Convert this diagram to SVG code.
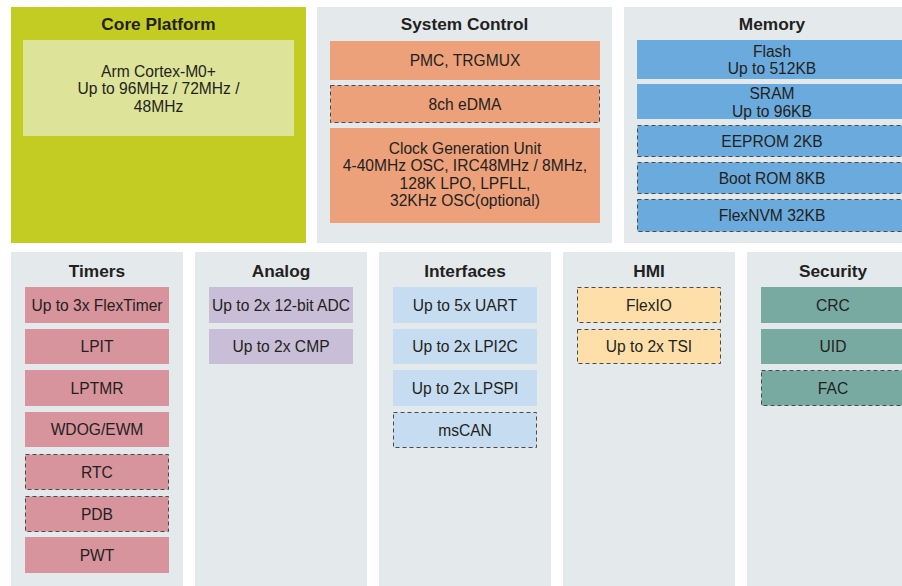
<svg xmlns="http://www.w3.org/2000/svg" width="902" height="586" viewBox="0 0 902 586">
<style>
.panel{fill:#e4e9ec}
.title{font-family:"Liberation Sans",Arial,sans-serif;font-size:17.3px;font-weight:bold;fill:#231f20;text-anchor:middle}
.lbl{font-family:"Liberation Sans",Arial,sans-serif;font-size:15.6px;fill:#231f20;text-anchor:middle}
.dash{stroke:#4a4a4a;stroke-width:1;stroke-dasharray:4 3}
.core{fill:#dde398}
.sys{fill:#eca17b}
.mem{fill:#6aaadc}
.tim{fill:#d8949d}
.ana{fill:#c9bed7}
.ifc{fill:#c6dcf0}
.hmi{fill:#fedfa9}
.sec{fill:#79aaa2}
</style>
<rect width="902" height="586" fill="#ffffff"/>

<g id="core-platform">
<rect x="11" y="7" width="295" height="236" fill="#c2cc22"/>
<text class="title" x="158.5" y="30">Core Platform</text>
<g id="cortex">
<rect class="core" x="23" y="40" width="271" height="96"/>
<text class="lbl" x="158.5" y="76.5">Arm Cortex-M0+</text>
<text class="lbl" x="158.5" y="94">Up to 96MHz / 72MHz /</text>
<text class="lbl" x="158.5" y="111.5">48MHz</text>
</g>
</g>

<g id="system-control">
<rect class="panel" x="317" y="7" width="295" height="236"/>
<text class="title" x="464.5" y="30">System Control</text>
<g id="pmc"><rect class="sys" x="330" y="41" width="270" height="39"/><text class="lbl" x="465" y="66">PMC, TRGMUX</text></g>
<g id="edma"><rect class="sys dash" x="330.5" y="85.5" width="269" height="37"/><text class="lbl" x="465" y="109.5">8ch eDMA</text></g>
<g id="cgu"><rect class="sys" x="330" y="128" width="270" height="95"/>
<text class="lbl" x="465" y="153.5">Clock Generation Unit</text>
<text class="lbl" x="465" y="171">4-40MHz OSC, IRC48MHz / 8MHz,</text>
<text class="lbl" x="465" y="188.5">128K LPO, LPFLL,</text>
<text class="lbl" x="465" y="206">32KHz OSC(optional)</text></g>
</g>

<g id="memory">
<rect class="panel" x="624" y="7" width="295" height="236"/>
<text class="title" x="772" y="30">Memory</text>
<g id="flash"><rect class="mem" x="637" y="40" width="270" height="39"/><text class="lbl" x="772" y="56.5">Flash</text><text class="lbl" x="772" y="73.5">Up to 512KB</text></g>
<g id="sram"><rect class="mem" x="637" y="84" width="270" height="35"/><text class="lbl" x="772" y="98.5">SRAM</text><text class="lbl" x="772" y="116.5">Up to 96KB</text></g>
<g id="eeprom"><rect class="mem dash" x="637.5" y="125.5" width="270" height="31"/><text class="lbl" x="772" y="146.5">EEPROM 2KB</text></g>
<g id="bootrom"><rect class="mem dash" x="637.5" y="162.5" width="270" height="31"/><text class="lbl" x="772" y="183.5">Boot ROM 8KB</text></g>
<g id="flexnvm"><rect class="mem dash" x="637.5" y="199.5" width="270" height="32"/><text class="lbl" x="772" y="221">FlexNVM 32KB</text></g>
</g>

<g id="timers">
<rect class="panel" x="11" y="252" width="172" height="340"/>
<text class="title" x="97" y="277">Timers</text>
<g id="flextimer"><rect class="tim" x="25" y="287" width="144" height="36"/><text class="lbl" x="97" y="310.5">Up to 3x FlexTimer</text></g>
<g id="lpit"><rect class="tim" x="25" y="329" width="144" height="35"/><text class="lbl" x="97" y="352">LPIT</text></g>
<g id="lptmr"><rect class="tim" x="25" y="370" width="144" height="36"/><text class="lbl" x="97" y="393.5">LPTMR</text></g>
<g id="wdog"><rect class="tim" x="25" y="412" width="144" height="35"/><text class="lbl" x="97" y="435">WDOG/EWM</text></g>
<g id="rtc"><rect class="tim dash" x="25.5" y="454.5" width="143" height="35"/><text class="lbl" x="97" y="477.5">RTC</text></g>
<g id="pdb"><rect class="tim dash" x="25.5" y="496.5" width="143" height="35"/><text class="lbl" x="97" y="519.5">PDB</text></g>
<g id="pwt"><rect class="tim" x="25" y="537" width="144" height="36"/><text class="lbl" x="97" y="560.5">PWT</text></g>
</g>

<g id="analog">
<rect class="panel" x="195" y="252" width="172" height="340"/>
<text class="title" x="281" y="277">Analog</text>
<g id="adc"><rect class="ana" x="209" y="287" width="144" height="36"/><text class="lbl" x="281" y="310.5">Up to 2x 12-bit ADC</text></g>
<g id="cmp"><rect class="ana" x="209" y="329" width="144" height="35"/><text class="lbl" x="281" y="352">Up to 2x CMP</text></g>
</g>

<g id="interfaces">
<rect class="panel" x="379" y="252" width="172" height="340"/>
<text class="title" x="465" y="277">Interfaces</text>
<g id="uart"><rect class="ifc" x="393" y="287" width="144" height="36"/><text class="lbl" x="465" y="310.5">Up to 5x UART</text></g>
<g id="lpi2c"><rect class="ifc" x="393" y="329" width="144" height="35"/><text class="lbl" x="465" y="352">Up to 2x LPI2C</text></g>
<g id="lpspi"><rect class="ifc" x="393" y="370" width="144" height="36"/><text class="lbl" x="465" y="393.5">Up to 2x LPSPI</text></g>
<g id="mscan"><rect class="ifc dash" x="393.5" y="412.5" width="143" height="35"/><text class="lbl" x="465" y="435.5">msCAN</text></g>
</g>

<g id="hmi">
<rect class="panel" x="563" y="252" width="172" height="340"/>
<text class="title" x="649" y="277">HMI</text>
<g id="flexio"><rect class="hmi dash" x="577.5" y="287.5" width="143" height="35"/><text class="lbl" x="649" y="310.5">FlexIO</text></g>
<g id="tsi"><rect class="hmi dash" x="577.5" y="329.5" width="143" height="34"/><text class="lbl" x="649" y="352">Up to 2x TSI</text></g>
</g>

<g id="security">
<rect class="panel" x="747" y="252" width="172" height="340"/>
<text class="title" x="833" y="277">Security</text>
<g id="crc"><rect class="sec" x="761" y="287" width="144" height="36"/><text class="lbl" x="833" y="310.5">CRC</text></g>
<g id="uid"><rect class="sec" x="761" y="329" width="144" height="35"/><text class="lbl" x="833" y="352">UID</text></g>
<g id="fac"><rect class="sec dash" x="761.5" y="370.5" width="143" height="35"/><text class="lbl" x="833" y="393.5">FAC</text></g>
</g>

<g id="connectors"></g>
</svg>
